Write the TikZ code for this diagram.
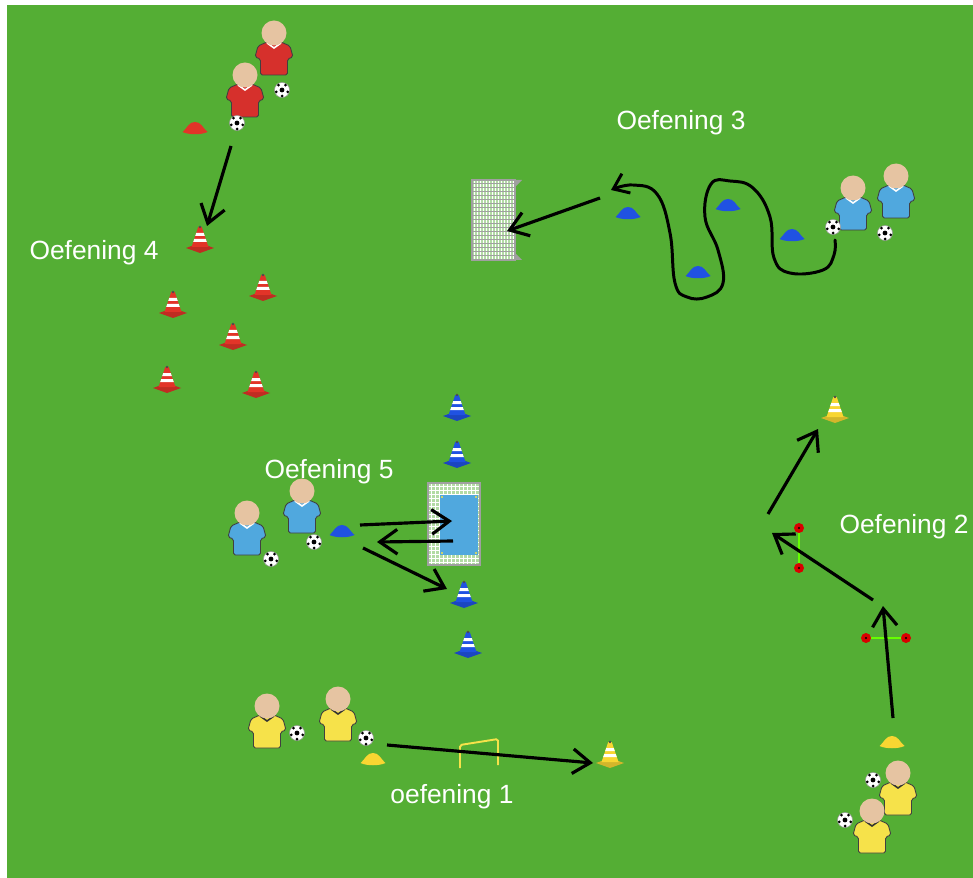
\documentclass[tikz,border=0pt]{standalone}
\usepackage{fontspec}
\setmainfont{Liberation Sans}
\usetikzlibrary{arrows.meta}

\definecolor{veld}{RGB}{84,174,52}
\definecolor{huid}{RGB}{230,196,162}
\definecolor{rood}{RGB}{214,48,44}
\definecolor{blauw}{RGB}{80,168,222}
\definecolor{geel}{RGB}{246,226,74}
\definecolor{pionrood}{RGB}{226,52,40}
\definecolor{pionblauw}{RGB}{32,82,226}
\definecolor{piongeel}{RGB}{248,214,50}
\definecolor{net}{RGB}{160,160,160}

% spelers, ballen, pionnen en hoedjes
\tikzset{
  pics/speler/.style n args={2}{code={
    \fill[#1, draw=black!75, line width=0.5pt, rounded corners=1pt]
      (-7,-16) -- (7,-16) -- (16,-12) -- (19,-1) -- (13.5,1) -- (13.5,17)
      -- (-13.5,17) -- (-13.5,1) -- (-19,-1) -- (-16,-12) -- cycle;
    \draw[#2, line width=0.9pt] (-7,-15) -- (0,-10) -- (7,-15);
    \fill[huid] (0,-25) circle (12.5);
  }},
  pics/bal/.style={code={
    \fill[white, draw=black!40, line width=0.3pt] (0,0) circle (7.5);
    \fill[black] (0,0) circle (2.4);
    \foreach \h in {18,90,162,234,306} \fill[black] (\h:6) circle (1.5);
  }},
  pics/pion/.style={code={
    \fill[#1!85!black] (-14,8) -- (0,3) -- (14,8) -- (0,13) -- cycle;
    \fill[#1] (-8.5,7) -- (-1.8,-13) -- (1.8,-13) -- (8.5,7) -- cycle;
    \fill[white] (-3.8,-7) -- (3.8,-7) -- (4.8,-4) -- (-4.8,-4) -- cycle;
    \fill[white] (-5.8,-1) -- (5.8,-1) -- (6.8,2) -- (-6.8,2) -- cycle;
    \fill[black!70] (0,-13) circle (1.4);
  }},
  pics/hoedje/.style={code={
    \fill[#1] (-12.5,4) .. controls (-7,-1) and (-6,-6) .. (0,-6)
      .. controls (6,-6) and (7,-1) .. (12.5,4)
      .. controls (6,7) and (-6,7) .. cycle;
  }},
  pics/stip/.style={code={
    \fill[red!85!black] (0,0) circle (5);
    \fill[black] (0,0) circle (1.2);
  }}
}

\begin{document}
\begin{tikzpicture}[x=0.02cm, y=-0.02cm,
  pijl/.style={line width=1.8pt, -{Straight Barb[length=10pt,width=14pt]}},
  tekst/.style={white, anchor=base, font=\fontsize{15}{18}\selectfont}]
\useasboundingbox (0,0) rectangle (973,878);
\fill[white] (0,0) rectangle (973,878);
\fill[veld] (7,5) rectangle (973,878);

% Oefening 4
\pic at (274,58) {speler={rood}{white}};
\pic at (245,100) {speler={rood}{white}};
\pic at (282,90) {bal};
\pic at (237,123) {bal};
\pic at (195,128) {hoedje=pionrood};
\foreach \x/\y in {200/240, 263/288, 173/305, 233/337, 167/380, 256/385}
  \pic at (\x,\y) {pion=pionrood};
\coordinate (o4start) at (231,146);
\coordinate (o4eind) at (207,226);
\draw[pijl] (o4start) -- (o4eind);
\node[tekst] (lbl4) at (94,260) {Oefening 4};

% Oefening 3
\fill[white!55!veld] (472,180) rectangle (515,260);
\foreach \x in {474,477,...,514} \draw[white, line width=0.3pt] (\x,180) -- (\x,260);
\foreach \y in {183,187,...,259} \draw[net, line width=0.2pt] (472,\y) -- (515,\y);
\fill[net] (515,180) -- (522,180) -- (515,187) -- cycle;
\fill[net] (515,260) -- (522,260) -- (515,253) -- cycle;
\draw[net, line width=1.2pt] (472,180) rectangle (515,260);
\foreach \x/\y in {628/213, 728/205, 698/272, 792/235}
  \pic at (\x,\y) {hoedje=pionblauw};
\draw[line width=1.7pt, line cap=round, -{Straight Barb[length=8pt,width=12pt]}]
  plot[smooth, tension=0.7] coordinates {(835,240) (834,255) (823,270) (790,273)
  (774,258) (770,217) (753,188) (730,181) (711,184) (705,217) (718,250) (723,283)
  (707,297) (687,297) (675,283) (670,233) (657,194) (633,185) (611,190)};
\pic at (853,213) {speler={blauw}{white}};
\pic at (896,201) {speler={blauw}{white}};
\pic at (833,227) {bal};
\pic at (885,233) {bal};
\coordinate (o3start) at (600,198);
\coordinate (o3eind) at (507,231);
\draw[pijl] (o3start) -- (o3eind);
\node[tekst] (lbl3) at (681,130) {Oefening 3};

% Oefening 5
\fill[white!55!veld] (428,483) rectangle (480,565);
\foreach \x in {431,435,...,479} \draw[white, line width=0.3pt] (\x,483) -- (\x,565);
\foreach \y in {486,490,...,564} \draw[white, line width=0.3pt] (428,\y) -- (480,\y);
\draw[net, line width=1.2pt] (428,483) rectangle (480,565);
\fill[blauw] (440,495) rectangle (478,555);
\foreach \x/\y in {442/497, 476/497, 442/553, 476/553} \fill[geel] (\x,\y) circle (1.2);
\foreach \x/\y in {457/408, 457/455, 464/595, 468/645}
  \pic at (\x,\y) {pion=pionblauw};
\pic at (247,538) {speler={blauw}{white}};
\pic at (302,516) {speler={blauw}{white}};
\pic at (271,559) {bal};
\pic at (314,542) {bal};
\pic at (342,531) {hoedje=pionblauw};
\coordinate (o5a) at (360,525);
\coordinate (o5b) at (452,521);
\coordinate (o5c) at (453,541);
\coordinate (o5d) at (377,542);
\coordinate (o5e) at (363,548);
\coordinate (o5f) at (447,589);
\draw[pijl] (o5a) -- (o5b);
\draw[pijl] (o5c) -- (o5d);
\draw[pijl] (o5e) -- (o5f);
\node[tekst] (lbl5) at (329,478) {Oefening 5};

% Oefening 2
\pic at (835,410) {pion=piongeel};
\draw[green!60!yellow, line width=0.8pt] (799,528) -- (799,568);
\draw[green!60!yellow, line width=0.8pt] (866,638) -- (906,638);
\foreach \x/\y in {799/528, 799/568, 866/638, 906/638}
  \pic at (\x,\y) {stip};
\pic at (892,742) {hoedje=piongeel};
\pic at (898,798) {speler={geel}{black!80}};
\pic at (872,836) {speler={geel}{black!80}};
\pic at (873,780) {bal};
\pic at (845,820) {bal};
\coordinate (o2a) at (893,718);
\coordinate (o2b) at (883,606);
\coordinate (o2c) at (873,600);
\coordinate (o2d) at (772,533);
\coordinate (o2e) at (768,514);
\coordinate (o2f) at (818,429);
\draw[pijl] (o2a) -- (o2b);
\draw[pijl] (o2c) -- (o2d);
\draw[pijl] (o2e) -- (o2f);
\node[tekst] (lbl2) at (904,533) {Oefening 2};

% oefening 1
\draw[geel, line width=1.1pt, rounded corners=1pt] (460,768) -- (460,745) -- (498,739) -- (498,765);
\pic at (610,755) {pion=piongeel};
\pic at (267,731) {speler={geel}{black!80}};
\pic at (338,724) {speler={geel}{black!80}};
\pic at (297,733) {bal};
\pic at (366,738) {bal};
\pic at (373,759) {hoedje=piongeel};
\coordinate (o1start) at (387,745);
\coordinate (o1eind) at (593,763);
\draw[pijl] (o1start) -- (o1eind);
\node[tekst] (lbl1) at (452,803) {oefening 1};
\end{tikzpicture}
\end{document}
